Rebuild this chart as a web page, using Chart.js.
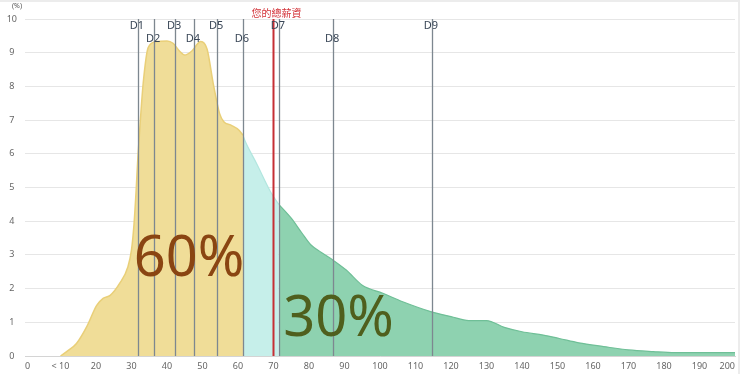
<!DOCTYPE html>
<html>
<head>
<meta charset="utf-8">
<script src="https://cdn.jsdelivr.net/npm/chart.js@4/dist/chart.umd.min.js"></script>
<style>
  html, body { margin: 0; padding: 0; background: #ffffff; }
  #wrap { width: 740px; height: 374px; }
</style>
</head>
<body>
<div id="wrap"><canvas id="c" width="740" height="374"></canvas></div>
<script>
// ---- data (salary in 10k units, share in %) ----
const lowX  = [10, 12, 14.5, 17.4, 20.2, 22, 24, 26.7, 29, 30, 30.7, 31.3, 31.8, 32.5, 33.3, 34.7, 37, 40, 41.7, 43.5, 45, 47, 49.5, 51.3, 53, 54.8, 56, 58, 60.3, 61.4];
const lowY  = [0, 0.15, 0.37, 0.87, 1.5, 1.71, 1.8, 2.16, 2.65, 3.15, 3.9, 4.9, 5.9, 7.0, 8.1, 9.15, 9.33, 9.35, 9.28, 9.05, 8.93, 9.05, 9.33, 9.1, 8.1, 7.2, 6.95, 6.85, 6.7, 6.55];
const midX  = [61.4, 62, 65.2, 69.4, 71.5];
const midY  = [6.55, 6.38, 5.72, 4.83, 4.5];
const highX = [71.5, 75, 78, 80.5, 83.5, 86.7, 90.5, 95, 100.8, 106.4, 114.5, 120, 125, 130, 135, 140, 146, 150.5, 156, 163, 170, 177, 183, 200];
const highY = [4.5, 4.09, 3.65, 3.3, 3.07, 2.85, 2.55, 2.1, 1.86, 1.61, 1.31, 1.17, 1.05, 1.05, 0.85, 0.72, 0.62, 0.52, 0.39, 0.28, 0.18, 0.13, 0.1, 0.1];

const decileValues = [31.8, 36.4, 42.3, 47.6, 54.1, 61.4, 71.5, 86.8, 114.6];
const decileLabels = ['D1', 'D2', 'D3', 'D4', 'D5', 'D6', 'D7', 'D8', 'D9'];
const yourSalary = 70;
const yourSalaryLabel = '您的總薪資';
const shareLabels = ['60%', '30%'];

const xTickValues = [0, 10, 20, 30, 40, 50, 60, 70, 80, 90, 100, 110, 120, 130, 140, 150, 160, 170, 180, 190, 200];
const xTickLabels = ['0', '< 10', '20', '30', '40', '50', '60', '70', '80', '90', '100', '110', '120', '130', '140', '150', '160', '170', '180', '190', '200'];
const yTickValues = [0, 1, 2, 3, 4, 5, 6, 7, 8, 9, 10];
const yUnitLabel = '(%)';

function pts(xs, ys) { return xs.map((x, i) => ({ x: x, y: ys[i] })); }

const overlay = {
  id: 'overlay',
  beforeDraw(chart) {
    const ctx = chart.ctx;
    ctx.save();
    ctx.fillStyle = '#ffffff';
    ctx.fillRect(0, 0, chart.width, chart.height);
    ctx.strokeStyle = '#ececec';
    ctx.lineWidth = 2;
    ctx.beginPath();
    ctx.moveTo(0, 1); ctx.lineTo(739, 1); ctx.lineTo(739, 374);
    ctx.stroke();
    ctx.restore();
  },
  afterDatasetsDraw(chart) {
    const ctx = chart.ctx;
    const xs = chart.scales.x, ys = chart.scales.y;
    const top = ys.getPixelForValue(10), bot = ys.getPixelForValue(0);
    ctx.save();
    // decile lines
    ctx.strokeStyle = '#7d8790';
    ctx.lineWidth = 1.3;
    decileValues.forEach((v) => {
      const px = Math.round(xs.getPixelForValue(v)) + 0.5;
      ctx.beginPath(); ctx.moveTo(px, top); ctx.lineTo(px, bot); ctx.stroke();
    });
    // your salary line
    const rx = xs.getPixelForValue(yourSalary);
    ctx.strokeStyle = '#c62f35';
    ctx.lineWidth = 2;
    ctx.beginPath(); ctx.moveTo(rx, top); ctx.lineTo(rx, bot); ctx.stroke();

    // percent labels
    ctx.textAlign = 'center';
    ctx.textBaseline = 'alphabetic';
    ctx.font = '56px "Noto Sans", "Open Sans", sans-serif';
    ctx.fillStyle = '#8a4512';
    ctx.fillText(shareLabels[0], xs.getPixelForValue(46.2), ys.getPixelForValue(2.38));
    ctx.fillStyle = '#4f5f1d';
    ctx.fillText(shareLabels[1], xs.getPixelForValue(88.3), ys.getPixelForValue(0.6));

    // decile labels
    ctx.font = '11px "Noto Sans", "DejaVu Sans", sans-serif';
    ctx.fillStyle = '#3a4757';
    ctx.textBaseline = 'middle';
    decileValues.forEach((v, i) => {
      const px = xs.getPixelForValue(v) - 1;
      const py = top + (i % 2 === 0 ? 7 : 20);
      ctx.fillText(decileLabels[i], px, py);
    });
    // your salary label
    ctx.font = '10px "Noto Sans CJK TC", "Noto Sans CJK SC", sans-serif';
    ctx.fillStyle = '#d3343a';
    ctx.fillText(yourSalaryLabel, rx + 3, top - 6);
    // unit label
    ctx.font = '7px "Noto Sans", "DejaVu Sans", sans-serif';
    ctx.fillStyle = '#555';
    ctx.fillText(yUnitLabel, 17, 6);
    ctx.restore();
  }
};

new Chart(document.getElementById('c'), {
  type: 'line',
  data: {
    datasets: [
      { data: pts(lowX, lowY), fill: 'origin', backgroundColor: '#f0dd98', borderColor: '#e9cf78', borderWidth: 1.5 },
      { data: pts(midX, midY), fill: 'origin', backgroundColor: '#c6efea', borderColor: '#b2e6df', borderWidth: 1.2 },
      { data: pts(highX, highY), fill: 'origin', backgroundColor: '#8ed2b0', borderColor: '#6fbf97', borderWidth: 1.2 }
    ]
  },
  options: {
    responsive: false,
    devicePixelRatio: 1,
    animation: false,
    layout: { padding: { top: 19, right: 4, left: 0, bottom: 0 } },
    elements: {
      point: { radius: 0, hoverRadius: 0 },
      line: { cubicInterpolationMode: 'monotone' }
    },
    plugins: { legend: { display: false }, tooltip: { enabled: false } },
    scales: {
      x: {
        type: 'linear', min: 0, max: 200,
        afterBuildTicks: (s) => { s.ticks = xTickValues.map(v => ({ value: v })); },
        afterFit: (s) => { s.height = 18; },
        ticks: {
          autoSkip: false, maxRotation: 0, align: 'inner', padding: 5,
          color: '#666', font: { size: 9, family: '"Noto Sans", "DejaVu Sans", sans-serif' },
          callback: (v, i) => xTickLabels[i]
        },
        grid: { display: false, drawTicks: false },
        border: { display: true, color: '#d4d4d4' }
      },
      y: {
        min: 0, max: 10,
        afterBuildTicks: (s) => { s.ticks = yTickValues.map(v => ({ value: v })); },
        afterFit: (s) => { s.width = 25; },
        ticks: {
          crossAlign: 'center', padding: 8,
          color: '#666', font: { size: 9, family: '"Noto Sans", "DejaVu Sans", sans-serif' }
        },
        grid: { color: '#e6e6e6', drawTicks: false },
        border: { display: false }
      }
    }
  },
  plugins: [overlay]
});
</script>
</body>
</html>
